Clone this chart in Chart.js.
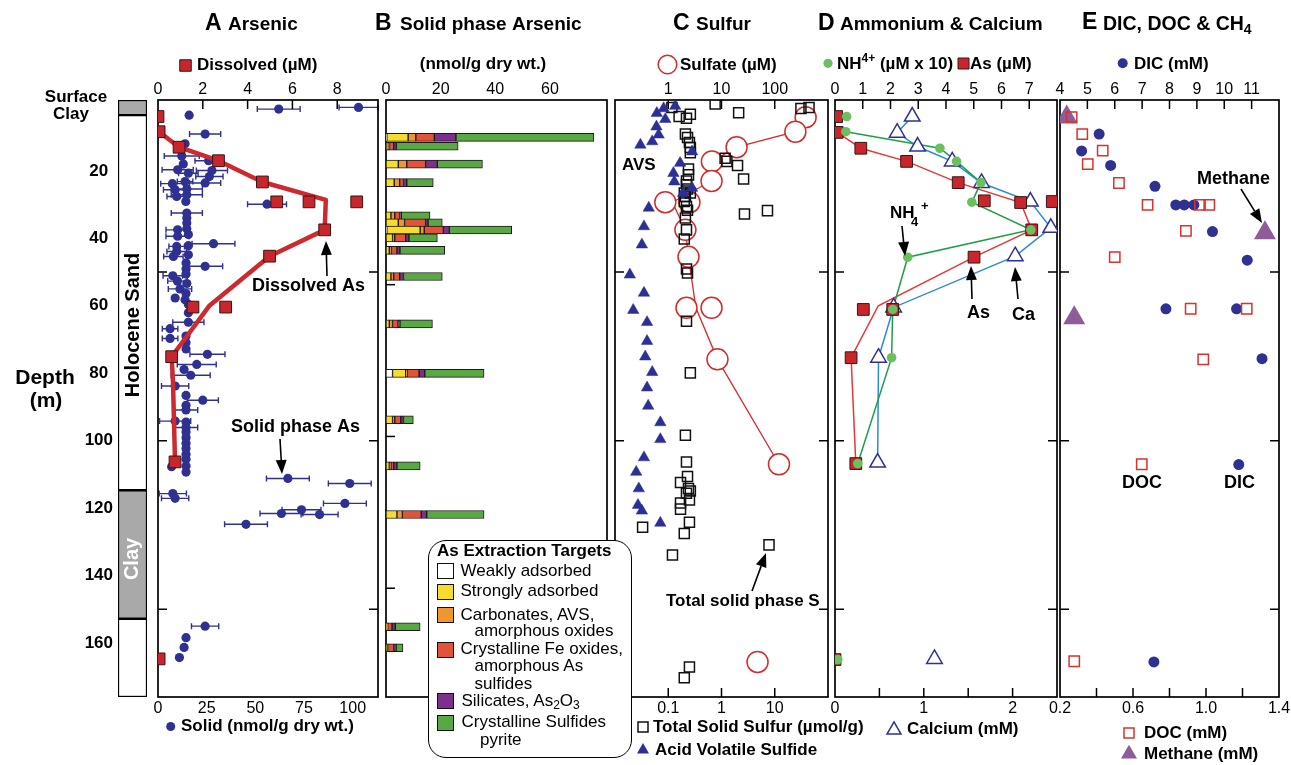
<!DOCTYPE html>
<html>
<head>
<meta charset="utf-8">
<script src="https://cdn.jsdelivr.net/npm/chart.js@4/dist/chart.umd.min.js"></script>
<style>
  html, body { margin: 0; padding: 0; background: #fff; }
  body { width: 1291px; height: 765px; position: relative; overflow: hidden;
         font-family: 'Liberation Sans', Arial, Helvetica, sans-serif; }
  canvas { position: absolute; top: 0; }
  #ext { position: absolute; left: 428px; top: 540px; width: 204px; height: 218px; box-sizing: border-box;
         border: 1.5px solid #000; border-radius: 18px; background: #fff; z-index: 5; font-size: 17px; color: #000; }
  #ext .ln { position: absolute; line-height: 20px; white-space: nowrap; }
  #ext .sw { position: absolute; left: 7.5px; width: 17px; height: 16px; box-sizing: border-box; border: 1.5px solid #111; }
  #ext sub { font-size: 12px; vertical-align: -3px; line-height: 0; }
</style>
</head>
<body>
<div id="ext">
  <div class="ln" style="left:8px;top:-0.5px;font-weight:bold;">As Extraction Targets</div>
  <div class="sw" style="top:21.5px;background:#ffffff"></div>
  <div class="ln" style="left:31.5px;top:20.2px">Weakly adsorbed</div>
  <div class="sw" style="top:43px;background:#f7dc2b"></div>
  <div class="ln" style="left:31.5px;top:40.2px">Strongly adsorbed</div>
  <div class="sw" style="top:65.5px;background:#f0962f"></div>
  <div class="ln" style="left:31.5px;top:63.5px">Carbonates, AVS,</div>
  <div class="ln" style="left:45.5px;top:80.2px">amorphous oxides</div>
  <div class="sw" style="top:100.5px;background:#e2533a"></div>
  <div class="ln" style="left:31.5px;top:97.5px">Crystalline Fe oxides,</div>
  <div class="ln" style="left:45.5px;top:115.2px">amorphous As</div>
  <div class="ln" style="left:45.5px;top:132.5px">sulfides</div>
  <div class="sw" style="top:152px;background:#7d2f8c"></div>
  <div class="ln" style="left:32.5px;top:150.2px">Silicates, As<sub>2</sub>O<sub>3</sub></div>
  <div class="sw" style="top:173.8px;background:#5aa843"></div>
  <div class="ln" style="left:32.5px;top:171.2px">Crystalline Sulfides</div>
  <div class="ln" style="left:51px;top:189.2px">pyrite</div>
</div>
<script>
// ---------------- Depth axis ----------------
const depthLabels = [20, 40, 60, 80, 100, 120, 140, 160];
const depthTickMarks = [50, 100, 150];

// ---------------- Lithology column (depth ranges, m) ----------------
const lithoUnits   = ['Surface Clay', 'Holocene Sand', 'Clay', 'Sand'];
const lithoTop     = [-1, 3.5, 114.7, 152.8];
const lithoBottom  = [3.5, 114.7, 152.8, 176];

// ---------------- A: Arsenic ----------------
const dissolvedAsDepth = [3.9, 8.4, 13.0, 17.0, 23.3, 29.2, 29.2, 29.2, 37.5, 45.3, 60.4, 60.4, 75.1, 106.3, 164.7];
const dissolvedAs      = [0.0, 0.05, 0.94, 2.7, 4.66, 5.3, 6.74, 8.87, 7.44, 4.98, 1.56, 3.02, 0.61, 0.76, 0.05];
const dissolvedTrendDepth = [8.4, 13.0, 17.0, 23.3, 28.6, 37.5, 45.3, 60.1, 69.5, 75.1, 82.8, 106.3];
const dissolvedTrend      = [0.05, 0.94, 2.7, 4.66, 7.49, 7.44, 4.98, 2.28, 1.24, 0.61, 0.67, 0.76];

const solidAsDepth = [1.7, 1.2, 3.5, 9.1, 12, 15.6, 17, 18, 19.9, 19.7, 21.7, 20.7, 23.2, 23.6, 23.8, 25.6, 25.4, 27.1, 27.6, 29.1,
  29.9, 32.5, 34, 35.5, 37.2, 37.5, 39.4, 38.9, 41.6, 42.2, 42.4, 43.9, 45.4, 44.9, 47.3, 48.3, 49.1, 50.6, 51.1, 52.7,
  53.4, 55, 56.4, 57.7, 58.2, 59.6, 62.1, 64.9, 66.8, 69.7, 69, 71, 72.8, 74.4, 77.4, 78.9, 80.6, 83.8, 86.6, 88,
  89.5, 90.9, 94.2, 94.5, 96.1, 97.4, 99.1, 100.8, 102.3, 104, 105.5, 107.5, 107.7, 109.3, 111.2, 112.7, 115.7, 117.1, 118.6, 120.5,
  121.6, 121.9, 124.8, 155, 158.4, 161.3, 164.3];
const solidAs = [62, 103, 16, 24.2, 13.9, 12.2, 26, 13, 27.7, 10.1, 26.4, 15.6, 13.9, 24.2, 7.4, 8.8, 14.8, 14.8, 9.6, 14.3,
  56, 14.8, 14.8, 14.8, 14.8, 10.1, 10.1, 15.6, 28.5, 15.6, 9.6, 9.6, 7.9, 15.6, 14.4, 24.2, 14.4, 14.4, 7.6, 10,
  14.8, 11.3, 14.4, 8.8, 13.9, 15.6, 15.6, 15.6, 6.2, 6.2, 14.4, 14.4, 14.4, 25.4, 19.9, 13.4, 16.8, 8.8, 14.4, 23,
  14.4, 14.4, 8.8, 14.4, 14.4, 14.4, 14.4, 14.4, 14.4, 14.4, 14.4, 14.4, 7, 14.4, 66.7, 98.5, 7.6, 8.8, 96, 73.7,
  63.4, 83, 45.2, 24.2, 14.4, 13.4, 11];
const solidAsErr = [11, 10, 0, 8, 0, 9, 7, 0, 8, 8, 7, 5, 4, 8, 6, 6, 8, 8, 5, 0,
  10, 8, 0, 0, 0, 6, 6, 0, 11, 0, 4, 5, 5, 0, 0, 9, 0, 0, 5, 5,
  0, 6, 0, 0, 0, 0, 0, 8, 4, 4, 0, 0, 0, 9, 10, 0, 10, 7, 0, 8,
  0, 6, 8, 0, 6, 0, 0, 0, 0, 0, 0, 0, 0, 0, 11, 11, 7, 7, 11, 10,
  11, 9.5, 11, 7, 0, 0, 0];

// ---------------- B: Solid phase arsenic extractions (nmol/g) ----------------
const extractionDepth = [1.5, 4.4, 10.3, 16.4, 27.3, 29.6, 32.0, 34.6, 38.7, 47.3, 62.9, 79.2, 94.5, 109.7, 125.7, 162.7, 169.6];
const weaklyAdsorbed   = [0.3, 0, 0, 0, 0, 0, 0.3, 0, 0, 0, 0, 2.4, 0, 0, 0, 0, 0];
const stronglyAdsorbed = [7.8, 0.8, 4.5, 3.0, 1.8, 4.5, 12.2, 2.4, 1.2, 1.8, 1.2, 4.8, 2.4, 1.2, 4.0, 0.3, 0.6];
const carbonatesAVS    = [2.8, 0.5, 3.1, 2.0, 1.4, 2.3, 1.5, 0.8, 0.8, 1.0, 1.2, 0.5, 0.8, 0.6, 2.0, 0.3, 0.3];
const crystFeOxides    = [6.8, 1.5, 6.9, 1.4, 1.9, 7.7, 7.0, 4.0, 2.0, 2.2, 2.0, 4.4, 2.2, 1.0, 6.9, 1.6, 2.0];
const silicatesAs2O3   = [7.9, 1.0, 4.3, 1.2, 0.5, 0.9, 2.2, 1.2, 1.1, 1.4, 0.7, 2.1, 1.0, 1.2, 2.0, 1.2, 0.8];
const crystSulfides    = [50.5, 22.6, 16.5, 9.7, 10.5, 5.2, 22.8, 10.4, 16.4, 14.2, 11.9, 21.7, 3.6, 8.5, 21.0, 9.1, 2.5];

// ---------------- C: Sulfur ----------------
const sulfateDepth = [4.1, 8.4, 13.0, 17.2, 23.0, 29.3, 29.3, 37.5, 45.5, 60.6, 60.6, 75.9, 107.0, 165.6];
const sulfate      = [380, 244, 19.2, 6.6, 6.5, 0.88, 2.5, 2.1, 2.4, 2.2, 6.5, 8.4, 120, 47.5];
const sulfateTrendDepth = [4.1, 8.4, 13.0, 17.2, 23.0, 29.3, 37.5, 45.5, 60.6, 75.9, 107.0];
const sulfateTrend      = [380, 244, 19.2, 6.6, 6.5, 1.2, 2.1, 2.4, 3.3, 8.4, 120];

const totalSDepth = [0.2, 1.2, 1.5, 1.2, 3.9, 3.2, 4.4, 2.8, 9.1, 10.1, 11.6, 13.1, 14.6, 16.3, 17.2, 18.4, 22.4, 19.5, 21.2, 23.0,
  24.1, 25.4, 26.6, 26.6, 27.6, 29.1, 30.6, 31.7, 32.8, 31.8, 34.0, 37.5, 40.2, 49.1, 50.3, 64.6, 79.9, 98.4, 106.3, 110.6,
  112.4, 114.2, 114.9, 115.6, 117.6, 118.5, 120.3, 124.2, 127.5, 125.7, 133.9, 130.9, 167.1, 170.3];
const totalS = [0.76, 0.117, 31, 44, 0.16, 0.26, 0.22, 2.1, 0.21, 0.23, 0.25, 0.26, 0.26, 1.17, 1.26, 2.0, 2.6, 0.24, 0.24, 0.22,
  0.22, 0.23, 0.20, 0.26, 0.21, 0.20, 0.22, 0.23, 2.7, 7.3, 0.21, 0.22, 0.20, 0.22, 0.23, 0.22, 0.26, 0.21, 0.22, 0.23,
  0.17, 0.24, 0.26, 0.22, 0.25, 0.17, 0.17, 0.25, 0.20, 0.033, 0.12, 7.8, 0.25, 0.20];

const avsDepth = [0.8, 1.5, 2.9, 4.7, 6.9, 9.3, 11.3, 12.3, 14.3, 17.7, 20.7, 23.2, 25.1, 26.6, 31.0, 36.5, 41.9, 50.8, 56.2, 61.3,
  64.9, 70.5, 75.1, 79.7, 84.3, 89.7, 94.6, 99.6, 105.0, 109.3, 114.2, 119.1, 120.8, 124.4];
const avs = [0.135, 0.082, 0.061, 0.088, 0.060, 0.066, 0.050, 0.030, 0.28, 0.167, 0.125, 0.13, 0.28, 0.19, 0.043, 0.035, 0.032, 0.019, 0.035, 0.022,
  0.040, 0.040, 0.037, 0.050, 0.040, 0.042, 0.071, 0.071, 0.035, 0.025, 0.028, 0.027, 0.032, 0.071];

// ---------------- D: Ammonium & Calcium ----------------
const nh4Depth = [3.9, 8.4, 13.3, 17.2, 23.5, 29.3, 37.5, 45.6, 61.1, 75.4, 106.8, 164.9];
const nh4x10   = [0.42, 0.39, 3.78, 4.38, 5.26, 4.93, 7.06, 2.62, 2.08, 2.04, 0.82, 0.1];
const nh4TrendDepth = [8.4, 13.3, 17.2, 23.5, 29.3, 37.5, 45.6, 61.1, 75.4, 106.8];
const nh4Trend      = [0.39, 3.78, 4.38, 5.26, 4.93, 7.06, 2.62, 2.08, 2.04, 0.82];

const asDDepth = [3.9, 8.6, 13.3, 17.2, 23.5, 28.9, 29.4, 29.1, 37.5, 45.6, 61.1, 61.1, 75.4, 106.8, 164.9];
const asD      = [0.06, 0.08, 0.93, 2.58, 4.44, 5.38, 6.69, 7.83, 7.09, 5.01, 1.02, 2.08, 0.58, 0.75, 0.0];
const asDTrendDepth = [8.6, 13.3, 17.2, 23.5, 29.4, 37.5, 45.6, 60.0, 75.4, 106.8];
const asDTrend      = [0.08, 0.93, 2.58, 4.44, 6.69, 7.09, 5.01, 1.56, 0.58, 0.75];

const calciumDepth = [3.9, 8.7, 12.8, 17.2, 23.6, 29.1, 36.9, 45.3, 60.5, 75.4, 106.5, 164.7];
const calcium      = [0.87, 0.70, 0.93, 1.32, 1.65, 2.2, 2.43, 2.03, 0.66, 0.49, 0.48, 1.12];
const calciumTrendDepth = [3.9, 8.7, 12.8, 17.2, 23.6, 29.1, 36.9, 45.3, 60.5, 75.4, 106.5];
const calciumTrend      = [0.87, 0.70, 0.93, 1.32, 1.65, 2.2, 2.43, 2.03, 0.66, 0.49, 0.48];

// ---------------- E: DIC, DOC & CH4 ----------------
const dicDepth = [9.1, 14.1, 18.4, 24.6, 30.1, 30.1, 30.1, 38.0, 46.5, 60.9, 60.9, 75.7, 107.1, 165.6];
const dic      = [5.43, 4.79, 5.85, 7.47, 8.23, 8.54, 8.89, 9.57, 10.84, 7.87, 10.45, 11.38, 10.53, 7.43];
const docDepth = [4.1, 9.1, 14.0, 18.0, 23.6, 30.1, 30.1, 30.1, 37.8, 45.6, 60.9, 60.9, 75.9, 107.0, 165.4];
const doc      = [0.264, 0.322, 0.434, 0.352, 0.523, 0.68, 0.967, 1.018, 0.89, 0.50, 0.916, 1.223, 0.985, 0.648, 0.278];
const methaneDepth = [4.1, 38.4, 63.6];
const methane      = [0.237, 1.323, 0.278];

// ---------------- Tick values and labels ----------------
const ticksA_top = [0, 2, 4, 6, 8];
const ticksA_bottom = [0, 25, 50, 75, 100];
const ticksB_top = [0, 20, 40, 60];
const ticksC_top = [1, 10, 100];
const labelsC_top = ['1', '10', '100'];
const ticksC_bottom = [0.1, 1, 10];
const labelsC_bottom = ['0.1', '1', '10'];
const ticksD_top = [0, 1, 2, 3, 4, 5, 6, 7];
const ticksD_bottom = [0, 0.5, 1, 1.5, 2];
const labelsD_bottom = ['0', '', '1', '', '2'];
const ticksE_top = [4, 5, 6, 7, 8, 9, 10, 11];
const ticksE_bottom = [0.2, 0.4, 0.6, 0.8, 1.0, 1.2, 1.4];
const labelsE_bottom = ['0.2', '', '0.6', '', '1.0', '', '1.4'];

// ================= drawing setup =================
const FF = "'Liberation Sans', Arial, Helvetica, sans-serif";
const B = s => 'bold ' + s + 'px ' + FF;
Chart.defaults.font.family = FF;
Chart.defaults.color = '#000';

const PAD = 80, TOP_H = 26, BOT_H = 24;
const RED = '#c8262c', NAVY = '#2e3192';
const pts = (xs, ds) => xs.map((v, i) => ({ x: v, y: ds[i] }));
const deco = {};

function drawText(ctx, it, off) {
  ctx.save();
  ctx.fillStyle = it.color || '#000';
  ctx.textBaseline = 'middle';
  ctx.textAlign = 'left';
  const segs = it.segs || [[it.t, it.f, 0]];
  let w = 0;
  segs.forEach(s => { ctx.font = s[1]; w += ctx.measureText(s[0]).width; });
  let x = it.x - off, y = it.y;
  if (it.rot) { ctx.translate(x, y); ctx.rotate(it.rot); x = 0; y = 0; }
  let cx = it.align === 'center' ? x - w / 2 : (it.align === 'right' ? x - w : x);
  segs.forEach(s => { ctx.font = s[1]; ctx.fillText(s[0], cx, y + (s[2] || 0)); cx += ctx.measureText(s[0]).width; });
  ctx.restore();
}
function drawMarker(ctx, m, off) {
  const x = m.x - off, y = m.y, s = m.s;
  ctx.save();
  ctx.beginPath();
  if (m.type === 'rect') ctx.rect(x - s / 2, y - s / 2, s, s);
  else if (m.type === 'circle') ctx.arc(x, y, s, 0, Math.PI * 2);
  else { const h = s * Math.sqrt(3) / 2; ctx.moveTo(x, y - 2 * h / 3); ctx.lineTo(x + s / 2, y + h / 3); ctx.lineTo(x - s / 2, y + h / 3); ctx.closePath(); }
  if (m.fill) { ctx.fillStyle = m.fill; ctx.fill(); }
  if (m.stroke) { ctx.strokeStyle = m.stroke; ctx.lineWidth = m.lw || 1.5; ctx.stroke(); }
  ctx.restore();
}
function drawArrow(ctx, a, off) {
  const x1 = a[0] - off, y1 = a[1], x2 = a[2] - off, y2 = a[3];
  const ang = Math.atan2(y2 - y1, x2 - x1), L = 14, W = 5.5;
  const bx = x2 - L * Math.cos(ang), by = y2 - L * Math.sin(ang);
  ctx.save();
  ctx.strokeStyle = '#000'; ctx.lineWidth = 1.6;
  ctx.beginPath(); ctx.moveTo(x1, y1); ctx.lineTo(bx, by); ctx.stroke();
  ctx.beginPath(); ctx.moveTo(x2, y2);
  ctx.lineTo(bx - W * Math.sin(ang), by + W * Math.cos(ang));
  ctx.lineTo(bx + W * Math.sin(ang), by - W * Math.cos(ang));
  ctx.closePath(); ctx.fillStyle = '#000'; ctx.fill();
  ctx.restore();
}

Chart.register({
  id: 'panelDeco',
  beforeDatasetsDraw(chart) {
    const c = deco[chart.canvas.id]; if (!c) return;
    const ctx = chart.ctx, a = chart.chartArea, ys = chart.scales.y;
    ctx.save();
    if (c.errorBars) {
      const eb = c.errorBars, xs = chart.scales[eb.axis];
      ctx.strokeStyle = eb.color; ctx.lineWidth = 1.4;
      eb.values.forEach((v, i) => {
        const e = eb.errors[i]; if (!e) return;
        const y = ys.getPixelForValue(eb.depths[i]);
        const x1 = xs.getPixelForValue(v - e), x2 = xs.getPixelForValue(v + e);
        ctx.beginPath();
        ctx.moveTo(x1, y); ctx.lineTo(x2, y);
        ctx.moveTo(x1, y - 3); ctx.lineTo(x1, y + 3);
        ctx.moveTo(x2, y - 3); ctx.lineTo(x2, y + 3);
        ctx.stroke();
      });
    }
    if (c.frame) {
      ctx.strokeStyle = '#000'; ctx.lineWidth = 1.7;
      ctx.strokeRect(a.left, a.top, a.right - a.left, a.bottom - a.top);
      ctx.lineWidth = 1.5;
      depthTickMarks.forEach(d => {
        const y = ys.getPixelForValue(d);
        ctx.beginPath();
        if (c.depthLeft !== false) { ctx.moveTo(a.left, y); ctx.lineTo(a.left + 9, y); }
        if (c.depthRight !== false) { ctx.moveTo(a.right, y); ctx.lineTo(a.right - 9, y); }
        ctx.stroke();
      });
      Object.keys(c.inTicks || {}).forEach(id => {
        const s = chart.scales[id], top = s.options.position === 'top';
        c.inTicks[id].forEach(v => {
          const x = s.getPixelForValue(v);
          ctx.beginPath();
          if (top) { ctx.moveTo(x, a.top); ctx.lineTo(x, a.top + 9); }
          else { ctx.moveTo(x, a.bottom); ctx.lineTo(x, a.bottom - 9); }
          ctx.stroke();
        });
      });
    }
    ctx.restore();
  },
  afterDraw(chart) {
    const c = deco[chart.canvas.id]; if (!c) return;
    const ctx = chart.ctx;
    (c.arrows || []).forEach(a => drawArrow(ctx, a, c.off));
    (c.markers || []).forEach(m => drawMarker(ctx, m, c.off));
    (c.texts || []).forEach(t => drawText(ctx, t, c.off));
  }
});

function makeCanvas(id, left, width) {
  const cv = document.createElement('canvas');
  cv.id = id; cv.width = width; cv.height = 765;
  cv.style.left = left + 'px'; cv.style.width = width + 'px'; cv.style.height = '765px';
  document.body.insertBefore(cv, document.getElementById('ext'));
  return cv;
}
function depthAxis() {
  return { type: 'linear', reverse: true, min: -1, max: 176, display: false };
}
function xAxis(pos, type, min, max, vals, labels) {
  return {
    type, axis: 'x', position: pos, min, max, bounds: 'data',
    grid: { display: false, drawTicks: false }, border: { display: false },
    afterBuildTicks: s => { s.ticks = vals.map(v => ({ value: v })); },
    afterFit: s => { s.height = pos === 'top' ? TOP_H : BOT_H; },
    ticks: { autoSkip: false, maxRotation: 0, minRotation: 0, padding: pos === 'top' ? 1 : 2, color: '#000',
             font: { family: FF, size: 16 },
             callback: (v, i) => labels ? labels[i] : String(vals[i]) }
  };
}
function panel(id, L, W, type, datasets, scales, hasBottom, cfg) {
  const cv = makeCanvas(id, L - PAD, W + 2 * PAD);
  cfg.off = L - PAD;
  deco[id] = cfg;
  return new Chart(cv, {
    type, data: { datasets },
    options: {
      responsive: false, animation: false, devicePixelRatio: 1, events: [],
      layout: { padding: { left: PAD, right: PAD, top: 100 - TOP_H, bottom: hasBottom ? 765 - 697 - BOT_H : 765 - 697 } },
      plugins: { legend: { display: false }, tooltip: { enabled: false } },
      scales: Object.assign({ y: depthAxis() }, scales)
    }
  });
}

// ---------- Lithology column with depth labels ----------
(function () {
  const cv = makeCanvas('litho', 0, 150);
  deco.litho = {
    off: 0,
    texts: [
      { t: 'Surface', f: B(17), x: 76, y: 97.5, align: 'center' },
      { t: 'Clay', f: B(17), x: 71, y: 114, align: 'center' },
      { t: 'Depth', f: B(21), x: 45, y: 378, align: 'center' },
      { t: '(m)', f: B(21), x: 46, y: 401, align: 'center' },
      { t: 'Holocene Sand', f: B(20), x: 133, y: 325, align: 'center', rot: -Math.PI / 2 },
      { t: 'Clay', f: B(20), x: 132.5, y: 559, align: 'center', rot: -Math.PI / 2, color: '#fff' }
    ]
  };
  const fills = ['#a9a9a9', '#ffffff', '#a9a9a9', '#ffffff'];
  new Chart(cv, {
    type: 'bar',
    data: {
      labels: ['column'],
      datasets: lithoUnits.map((u, i) => ({
        label: u, data: [[lithoTop[i], lithoBottom[i]]], backgroundColor: fills[i],
        borderColor: '#000', borderWidth: 1.5, borderSkipped: false, grouped: false,
        barPercentage: 1, categoryPercentage: 1
      }))
    },
    options: {
      responsive: false, animation: false, devicePixelRatio: 1, events: [],
      layout: { padding: { left: 0, right: 3, top: 100, bottom: 68 } },
      plugins: { legend: { display: false }, tooltip: { enabled: false } },
      scales: {
        x: { display: false },
        y: {
          type: 'linear', reverse: true, min: -1, max: 176, bounds: 'data', position: 'left',
          grid: { display: false, drawTicks: false }, border: { display: false },
          afterBuildTicks: s => { s.ticks = depthLabels.map(v => ({ value: v })); },
          afterFit: s => { s.width = 118; },
          ticks: { crossAlign: 'center', padding: 5, color: '#000', font: { family: FF, size: 17, weight: 'bold' } }
        }
      }
    }
  });
})();

// ---------- A: Arsenic ----------
panel('pA', 158, 220, 'scatter', [
  { label: 'Dissolved As trend', data: pts(dissolvedTrend, dissolvedTrendDepth), xAxisID: 'x', showLine: true,
    borderColor: '#cc2a2e', borderWidth: 4.5, pointRadius: 0, borderJoinStyle: 'round', order: 2 },
  { label: 'Dissolved (µM)', data: pts(dissolvedAs, dissolvedAsDepth), xAxisID: 'x', pointStyle: 'rect',
    pointRadius: 8.3, backgroundColor: RED, borderColor: '#3b1414', borderWidth: 1, order: 1 },
  { label: 'Solid (nmol/g dry wt.)', data: pts(solidAs, solidAsDepth), xAxisID: 'x2', pointStyle: 'circle',
    pointRadius: 4.6, backgroundColor: NAVY, borderWidth: 0, order: 3 }
], {
  x: xAxis('top', 'linear', 0, 9.82, ticksA_top),
  x2: xAxis('bottom', 'linear', 0, 113, ticksA_bottom)
}, true, {
  frame: true, inTicks: { x: [2, 4, 6, 8] },
  errorBars: { axis: 'x2', values: solidAs, depths: solidAsDepth, errors: solidAsErr, color: NAVY },
  markers: [
    { type: 'rect', x: 185.5, y: 65.5, s: 11.5, fill: RED, stroke: '#3b1414', lw: 1 },
    { type: 'circle', x: 170.7, y: 726.5, s: 4.5, fill: NAVY }
  ],
  arrows: [[327, 276, 326, 241], [280, 439, 282, 474]],
  texts: [
    { t: 'A', f: B(23), x: 205, y: 23.5 },
    { t: 'Arsenic', f: B(19), x: 228, y: 25 },
    { t: 'Dissolved (µM)', f: B(17), x: 197, y: 65.5 },
    { t: 'Solid (nmol/g dry wt.)', f: B(17), x: 181, y: 726.5 },
    { t: 'Dissolved As', f: B(18), x: 252, y: 286.5 },
    { t: 'Solid phase As', f: B(18), x: 231, y: 427 }
  ]
});

// ---------- B: Solid phase arsenic ----------
const extractionSeries = [
  ['Weakly adsorbed', weaklyAdsorbed, '#ffffff'],
  ['Strongly adsorbed', stronglyAdsorbed, '#f7dc2b'],
  ['Carbonates, AVS, amorphous oxides', carbonatesAVS, '#f0962f'],
  ['Crystalline Fe oxides, amorphous As sulfides', crystFeOxides, '#e2533a'],
  ['Silicates, As2O3', silicatesAs2O3, '#7d2f8c'],
  ['Crystalline Sulfides pyrite', crystSulfides, '#5aa843']
];
(function () {
  const id = 'pB', L = 386, W = 221;
  const cv = makeCanvas(id, L - PAD, W + 2 * PAD);
  deco[id] = {
    off: L - PAD, frame: true, depthRight: false,
    texts: [
      { t: 'B', f: B(23), x: 375, y: 23.5 },
      { t: 'Solid phase Arsenic', f: B(19), x: 400, y: 25 },
      { t: '(nmol/g dry wt.)', f: B(17), x: 483, y: 64, align: 'center' }
    ]
  };
  new Chart(cv, {
    type: 'bar',
    data: {
      datasets: extractionSeries.map(s => ({
        label: s[0], data: pts(s[1], extractionDepth), backgroundColor: s[2], borderColor: '#1a1a1a',
        borderWidth: 1, borderSkipped: false, barThickness: 8, stack: 'as'
      }))
    },
    options: {
      indexAxis: 'y', responsive: false, animation: false, devicePixelRatio: 1, events: [],
      layout: { padding: { left: PAD, right: PAD, top: 100 - TOP_H, bottom: 765 - 697 } },
      plugins: { legend: { display: false }, tooltip: { enabled: false } },
      scales: {
        y: depthAxis(),
        x: Object.assign(xAxis('top', 'linear', 0, 80.9, ticksB_top), { stacked: true })
      }
    }
  });
})();

// ---------- C: Sulfur ----------
panel('pC', 615, 213, 'scatter', [
  { label: 'AVS', data: pts(avs, avsDepth), xAxisID: 'x2', pointStyle: 'triangle', pointRadius: 6.6,
    backgroundColor: '#2b2f96', borderColor: '#2b2f96', borderWidth: 0.5, order: 1 },
  { label: 'Total Solid Sulfur', data: pts(totalS, totalSDepth), xAxisID: 'x2', pointStyle: 'rect', pointRadius: 7.1,
    backgroundColor: 'rgba(255,255,255,0)', borderColor: '#111', borderWidth: 1.5, order: 2 },
  { label: 'Sulfate', data: pts(sulfate, sulfateDepth), xAxisID: 'x', pointStyle: 'circle', pointRadius: 10.5,
    backgroundColor: '#fff', borderColor: '#d42a2a', borderWidth: 1.5, order: 4 },
  { label: 'Sulfate trend', data: pts(sulfateTrend, sulfateTrendDepth), xAxisID: 'x', showLine: true,
    borderColor: '#d8282d', borderWidth: 1.3, pointRadius: 0, order: 5 }
], {
  x: xAxis('top', 'logarithmic', 0.1, 1000, ticksC_top, labelsC_top),
  x2: xAxis('bottom', 'logarithmic', 0.01, 100, ticksC_bottom, labelsC_bottom)
}, true, {
  frame: true, inTicks: { x: ticksC_top, x2: ticksC_bottom },
  markers: [
    { type: 'circle', x: 667.5, y: 64.5, s: 9.3, stroke: '#d42a2a', lw: 1.5 },
    { type: 'rect', x: 643, y: 727, s: 10, stroke: '#111', lw: 1.5 },
    { type: 'tri', x: 643, y: 750, s: 12, fill: '#2b2f96' }
  ],
  arrows: [[752, 591, 766, 553]],
  texts: [
    { t: 'C', f: B(23), x: 673, y: 23.5 },
    { t: 'Sulfur', f: B(19), x: 696, y: 25 },
    { t: 'Sulfate (µM)', f: B(17), x: 680, y: 65 },
    { t: 'AVS', f: B(17), x: 622, y: 165 },
    { t: 'Total solid phase S', f: B(17), x: 666, y: 601.5 },
    { t: 'Total Solid Sulfur (µmol/g)', f: B(17), x: 653, y: 727 },
    { t: 'Acid Volatile Sulfide', f: B(17), x: 655, y: 750 }
  ]
});

// ---------- D: Ammonium & Calcium ----------
panel('pD', 835, 222, 'scatter', [
  { label: 'NH4+ (µM x 10)', data: pts(nh4x10, nh4Depth), xAxisID: 'x', pointStyle: 'circle', pointRadius: 4.8,
    backgroundColor: '#6abf5f', borderWidth: 0, order: 1 },
  { label: 'As (µM)', data: pts(asD, asDDepth), xAxisID: 'x', pointStyle: 'rect', pointRadius: 8.3,
    backgroundColor: RED, borderColor: '#3b1414', borderWidth: 1, order: 2 },
  { label: 'Calcium (mM)', data: pts(calcium, calciumDepth), xAxisID: 'x2', pointStyle: 'triangle', pointRadius: 9,
    backgroundColor: '#fff', borderColor: NAVY, borderWidth: 1.5, order: 3 },
  { label: 'NH4+ trend', data: pts(nh4Trend, nh4TrendDepth), xAxisID: 'x', showLine: true,
    borderColor: '#1f9e48', borderWidth: 1.5, pointRadius: 0, order: 6 },
  { label: 'As trend', data: pts(asDTrend, asDTrendDepth), xAxisID: 'x', showLine: true,
    borderColor: '#e8363a', borderWidth: 1.5, pointRadius: 0, order: 6 },
  { label: 'Calcium trend', data: pts(calciumTrend, calciumTrendDepth), xAxisID: 'x2', showLine: true,
    borderColor: '#2a8cd4', borderWidth: 1.5, pointRadius: 0, order: 6 }
], {
  x: xAxis('top', 'linear', 0, 8, ticksD_top),
  x2: xAxis('bottom', 'linear', 0, 2.5, ticksD_bottom, labelsD_bottom)
}, true, {
  frame: true, inTicks: { x: [1, 2, 3, 4, 5, 6, 7], x2: [0.5, 1, 1.5, 2] },
  markers: [
    { type: 'circle', x: 828, y: 63.3, s: 4.6, fill: '#6abf5f' },
    { type: 'rect', x: 963.5, y: 63.5, s: 11, fill: RED, stroke: '#3b1414', lw: 1 },
    { type: 'tri', x: 894, y: 730, s: 14, stroke: NAVY, lw: 1.5 }
  ],
  arrows: [[902, 226, 905, 256], [972, 299, 971, 266], [1018, 299, 1015, 267]],
  texts: [
    { t: 'D', f: B(23), x: 818, y: 23.5 },
    { t: 'Ammonium & Calcium', f: B(19), x: 840, y: 25 },
    { segs: [['NH', B(17), 0], ['4+', B(12), -5], [' (µM x 10)', B(17), 0]], x: 837, y: 64 },
    { t: 'As (µM)', f: B(17), x: 970, y: 64 },
    { t: 'NH', f: B(17), x: 890, y: 213.5 },
    { t: '4', f: B(13), x: 911, y: 222 },
    { t: '+', f: B(13), x: 921, y: 206 },
    { t: 'As', f: B(18), x: 967, y: 313 },
    { t: 'Ca', f: B(18), x: 1012, y: 315 },
    { t: 'Calcium (mM)', f: B(17), x: 907, y: 729 }
  ]
});

// ---------- E: DIC, DOC & CH4 ----------
panel('pE', 1060, 219, 'scatter', [
  { label: 'DOC (mM)', data: pts(doc, docDepth), xAxisID: 'x2', pointStyle: 'rect', pointRadius: 7.3,
    backgroundColor: 'rgba(255,255,255,0)', borderColor: '#d8322f', borderWidth: 1.5, order: 1 },
  { label: 'DIC (mM)', data: pts(dic, dicDepth), xAxisID: 'x', pointStyle: 'circle', pointRadius: 5.5,
    backgroundColor: NAVY, borderWidth: 0, order: 2 },
  { label: 'Methane (mM)', data: pts(methane, methaneDepth), xAxisID: 'x2', pointStyle: 'triangle', pointRadius: 12.7,
    backgroundColor: '#8e5c98', borderWidth: 0, order: 3 }
], {
  x: xAxis('top', 'linear', 4, 12, ticksE_top),
  x2: xAxis('bottom', 'linear', 0.2, 1.4, ticksE_bottom, labelsE_bottom)
}, true, {
  frame: true, inTicks: { x: [5, 6, 7, 8, 9, 10, 11], x2: [0.4, 0.6, 0.8, 1.0, 1.2] },
  markers: [
    { type: 'circle', x: 1122.7, y: 63.3, s: 5, fill: NAVY },
    { type: 'rect', x: 1129, y: 733, s: 10, stroke: '#d8322f', lw: 1.5 },
    { type: 'tri', x: 1129, y: 754, s: 16, fill: '#8e5c98' }
  ],
  arrows: [[1241, 189, 1262, 223]],
  texts: [
    { t: 'E', f: B(23), x: 1082, y: 22.5 },
    { segs: [['DIC, DOC & CH', B(19.5), 0], ['4', B(14), 6]], x: 1103, y: 24.5 },
    { t: 'DIC (mM)', f: B(17), x: 1134, y: 64 },
    { t: 'Methane', f: B(18), x: 1197, y: 179 },
    { t: 'DOC', f: B(18), x: 1122, y: 483 },
    { t: 'DIC', f: B(18), x: 1224, y: 483 },
    { t: 'DOC (mM)', f: B(17), x: 1144, y: 733 },
    { t: 'Methane (mM)', f: B(17), x: 1144, y: 754 }
  ]
});
</script>
</body>
</html>
